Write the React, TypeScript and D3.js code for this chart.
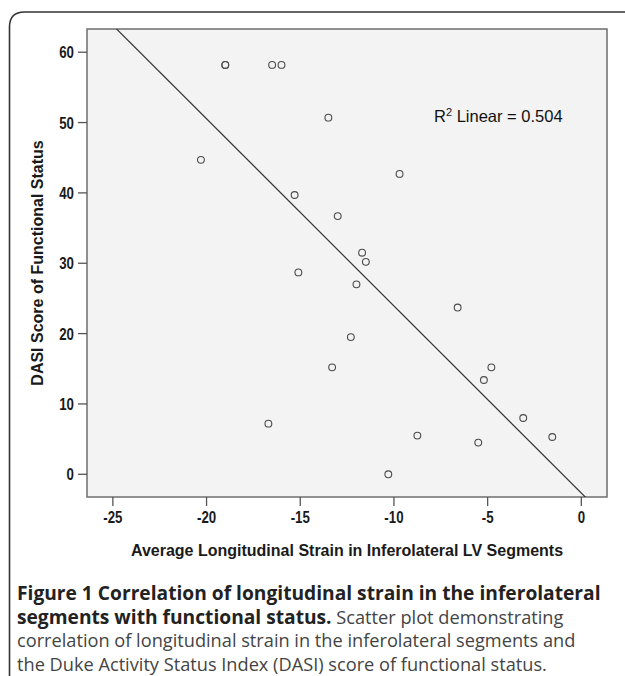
import React, { useEffect, useRef } from "react";
import * as d3 from "d3";

// values
const strain = [-19.0, -19.0, -16.5, -16.0, -13.5, -20.3, -9.7, -15.3, -13.0, -11.7, -11.5, -15.1, -12.0, -6.6, -12.3, -13.3, -4.8, -5.2, -3.1, -16.7, -8.75, -1.55, -5.5, -10.3];
const dasi = [58.2, 58.2, 58.2, 58.2, 50.7, 44.7, 42.7, 39.7, 36.7, 31.5, 30.2, 28.7, 27.0, 23.7, 19.5, 15.2, 15.2, 13.4, 8.0, 7.2, 5.5, 5.3, 4.5, 0.0];
const xTicks = [-25, -20, -15, -10, -5, 0];
const yTicks = [0, 10, 20, 30, 40, 50, 60];
// fit line (slope, intercept) as drawn in the figure
const fitSlope = -2.66;
const fitIntercept = -2.67;
const r2Label = "0.504";

const captionLines = [
  [{ t: "Figure 1 Correlation of longitudinal strain in the inferolateral", b: true }],
  [
    { t: "segments with functional status.", b: true },
    { t: " Scatter plot demonstrating", b: false },
  ],
  [{ t: "correlation of longitudinal strain in the inferolateral segments and", b: false }],
  [{ t: "the Duke Activity Status Index (DASI) score of functional status.", b: false }],
];

const App = () => {
  const ref = useRef<SVGSVGElement>(null);

  useEffect(() => {
    const svg = d3.select(ref.current);
    svg.selectAll("*").remove();

    const left = 87, right = 607, top = 29, bottom = 497;
    const x = d3.scaleLinear().domain([-26.38, 1.37]).range([left, right]);
    const y = d3.scaleLinear().domain([-3.23, 63.3]).range([bottom, top]);

    // outer frame
    svg
      .append("path")
      .attr("d", "M9.5,690 L9.5,27 Q9.5,12 24.5,12 L640,12")
      .attr("fill", "none")
      .attr("stroke", "#333")
      .attr("stroke-width", 1.6);

    svg
      .append("defs")
      .append("clipPath")
      .attr("id", "plotclip")
      .append("rect")
      .attr("x", left)
      .attr("y", top)
      .attr("width", right - left)
      .attr("height", bottom - top);

    svg
      .append("rect")
      .attr("x", left)
      .attr("y", top)
      .attr("width", right - left)
      .attr("height", bottom - top)
      .attr("fill", "#f3f3f3")
      .attr("stroke", "#6e6e6e")
      .attr("stroke-width", 1.5);

    // narrow bold look for the tick labels (squeezed horizontally)
    const tickFont = "'Liberation Sans', Arial, sans-serif";

    // y axis
    const yAxis = svg.append("g");
    yAxis
      .selectAll("line")
      .data(yTicks)
      .enter()
      .append("line")
      .attr("x1", left - 9)
      .attr("x2", left)
      .attr("y1", (d) => y(d))
      .attr("y2", (d) => y(d))
      .attr("stroke", "#555")
      .attr("stroke-width", 1.3);
    yAxis
      .selectAll("text")
      .data(yTicks)
      .enter()
      .append("text")
      .attr("transform", (d) => `translate(${left - 13},${y(d) + 6}) scale(0.78,1)`)
      .attr("text-anchor", "end")
      .attr("font-family", tickFont)
      .attr("font-weight", "bold")
      .attr("font-size", 17)
      .attr("fill", "#1a1a1a")
      .text((d) => d);

    // x axis
    const xAxis = svg.append("g");
    xAxis
      .selectAll("line")
      .data(xTicks)
      .enter()
      .append("line")
      .attr("x1", (d) => x(d))
      .attr("x2", (d) => x(d))
      .attr("y1", bottom)
      .attr("y2", bottom + 9)
      .attr("stroke", "#555")
      .attr("stroke-width", 1.3);
    xAxis
      .selectAll("text")
      .data(xTicks)
      .enter()
      .append("text")
      .attr("transform", (d) => `translate(${x(d)},${bottom + 26}) scale(0.78,1)`)
      .attr("text-anchor", "middle")
      .attr("font-family", tickFont)
      .attr("font-weight", "bold")
      .attr("font-size", 17)
      .attr("fill", "#1a1a1a")
      .text((d) => d);

    // axis titles
    svg
      .append("text")
      .attr("x", (left + right) / 2)
      .attr("y", 556)
      .attr("text-anchor", "middle")
      .style("font-family", "'Liberation Sans', Arial, sans-serif")
      .style("font-weight", "bold")
      .style("font-size", "16px")
      .attr("fill", "#1a1a1a")
      .text("Average Longitudinal Strain in Inferolateral LV Segments");

    svg
      .append("text")
      .attr("transform", `translate(43,${(top + bottom) / 2}) rotate(-90)`)
      .attr("text-anchor", "middle")
      .style("font-family", "'Liberation Sans', Arial, sans-serif")
      .style("font-weight", "bold")
      .style("font-size", "16px")
      .attr("fill", "#1a1a1a")
      .text("DASI Score of Functional Status");

    // fit line
    const [x0, x1] = x.domain();
    svg
      .append("line")
      .attr("clip-path", "url(#plotclip)")
      .attr("x1", x(x0))
      .attr("y1", y(fitIntercept + fitSlope * x0))
      .attr("x2", x(x1))
      .attr("y2", y(fitIntercept + fitSlope * x1))
      .attr("stroke", "#333")
      .attr("stroke-width", 1.2);

    // points
    svg
      .append("g")
      .selectAll("circle")
      .data(strain.map((s, i) => [s, dasi[i]]))
      .enter()
      .append("circle")
      .attr("cx", (d) => x(d[0]))
      .attr("cy", (d) => y(d[1]))
      .attr("r", 3.4)
      .attr("fill", "none")
      .attr("stroke", "#4a4a4a")
      .attr("stroke-width", 1.1);

    // R2 label
    const r2 = svg
      .append("text")
      .attr("x", 434)
      .attr("y", 122)
      .style("font-family", "'Liberation Sans', Arial, sans-serif")
      .style("font-size", "16.5px")
      .attr("fill", "#111");
    r2.append("tspan").text("R");
    r2.append("tspan").attr("dy", -6.5).style("font-size", "11px").text("2");
    r2.append("tspan").attr("dy", 6.5).text(` Linear = ${r2Label}`);

    // caption
    const cap = svg.append("g");
    captionLines.forEach((line, i) => {
      const t = cap
        .append("text")
        .attr("x", 17)
        .attr("y", 600 + i * 23.5)
        .style("font-family", "'Open Sans', 'Noto Sans', sans-serif");
      line.forEach((seg) => {
        t.append("tspan")
          .style("font-weight", seg.b ? "bold" : "normal")
          .style("font-size", seg.b ? "19.2px" : "18.2px")
          .attr("fill", seg.b ? "#222" : "#444")
          .text(seg.t);
      });
    });
  }, []);

  return (
    <svg
      ref={ref}
      width={625}
      height={676}
      style={{ position: "absolute", left: 0, top: 0, background: "#fff" }}
    />
  );
};

export default App;
